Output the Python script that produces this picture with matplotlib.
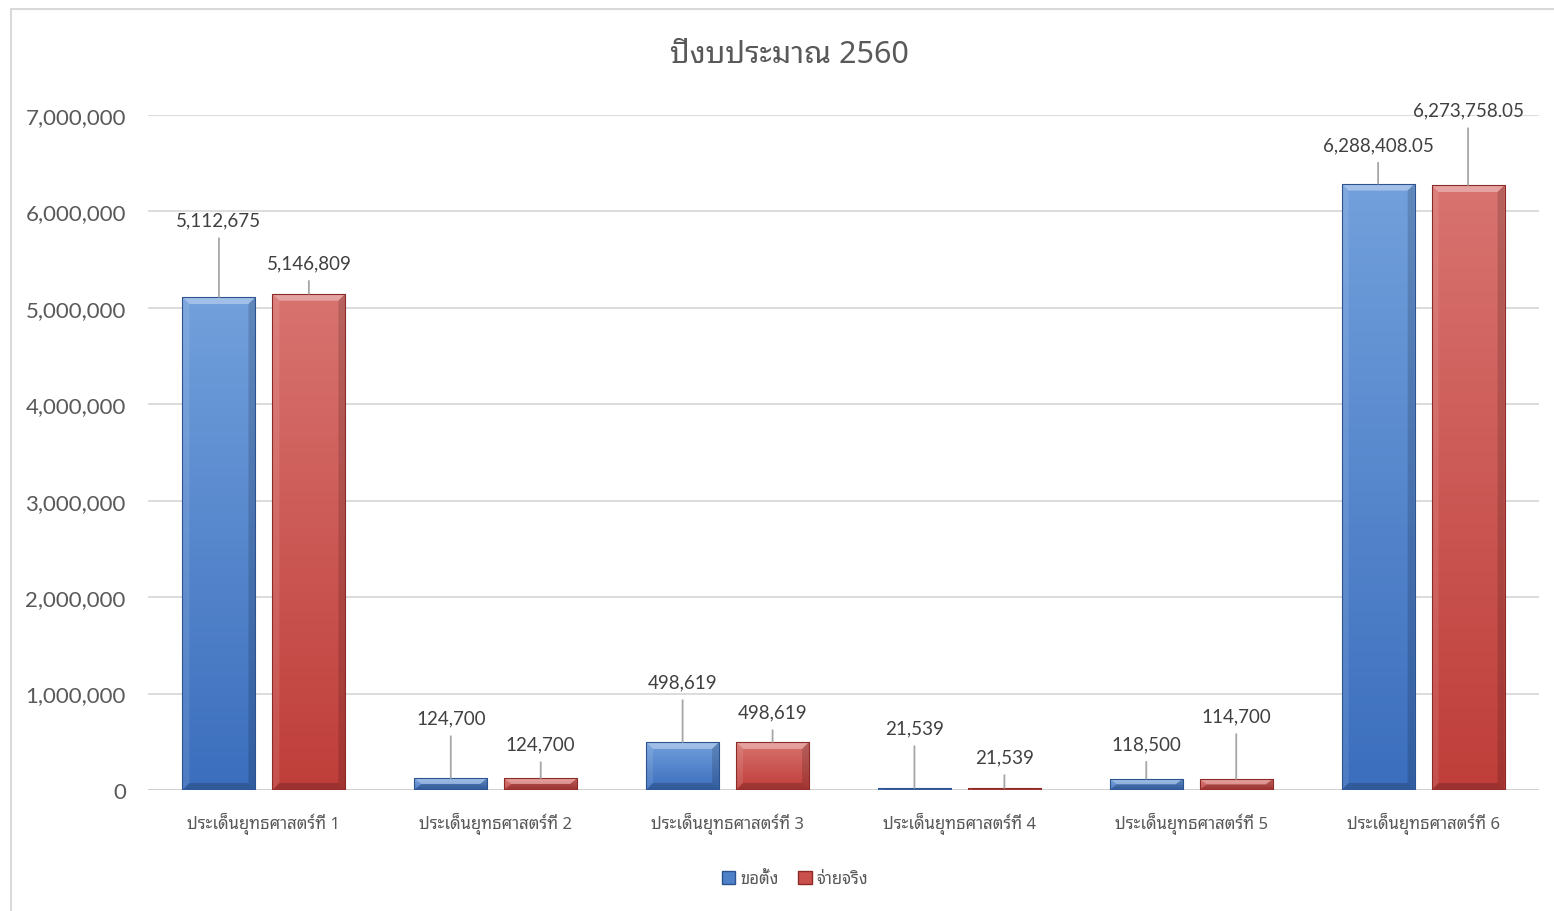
import numpy as np
import matplotlib
matplotlib.use('Agg')
import matplotlib.pyplot as plt
from matplotlib import font_manager as fm
from matplotlib.colors import LinearSegmentedColormap
from matplotlib.patches import Polygon, Rectangle, Patch

# data
categories = ['ประเด็นยุทธศาสตร์ที่ 1', 'ประเด็นยุทธศาสตร์ที่ 2', 'ประเด็นยุทธศาสตร์ที่ 3',
              'ประเด็นยุทธศาสตร์ที่ 4', 'ประเด็นยุทธศาสตร์ที่ 5', 'ประเด็นยุทธศาสตร์ที่ 6']
requested = [5112675, 124700, 498619, 21539, 118500, 6288408.05]
spent = [5146809, 124700, 498619, 21539, 114700, 6273758.05]
series_names = ['ขอตั้ง', 'จ่ายจริง']
title = 'ปีงบประมาณ 2560'
yticks = [0, 1000000, 2000000, 3000000, 4000000, 5000000, 6000000, 7000000]

# label offsets above bar tops (pixels)
off_req = [77, 60, 60, 60, 35, 39]
off_spent = [31, 34, 30, 31, 63, 75]

# fonts
names = {f.name for f in fm.fontManager.ttflist}
thai_pref = ['Noto Sans Thai Looped', 'IBM Plex Sans Thai Looped', 'Sarabun', 'Noto Sans Thai', 'Anuphan']
thai_font = next((n for n in thai_pref if n in names), 'DejaVu Sans')
num_font = 'Lato' if 'Lato' in names else 'DejaVu Sans'
plt.rcParams['font.family'] = [thai_font, 'DejaVu Sans']

W, H = 1554, 912
fig = plt.figure(figsize=(W / 100, H / 100), dpi=100)
ax_l, ax_b = 148 / W, (H - 791) / H
ax_w, ax_h = (1539 - 148) / W, (791 - 116) / H
ax = fig.add_axes([ax_l, ax_b, ax_w, ax_h])

# chart border
fig.patches.append(Rectangle((11 / W, -0.05), 1.2, 1 - 10 / H + 0.05, transform=fig.transFigure,
                             fill=False, edgecolor='#d9d9d9', lw=1.5, zorder=0))

x = np.arange(len(categories))
bw = 0.315
gap = 0.073
ax.set_xlim(-0.5, len(categories) - 0.5)
ax.set_ylim(0, 7000000)

ax.set_yticks(yticks)
ax.set_yticklabels(['{:,}'.format(v) for v in yticks], fontfamily=num_font, fontsize=16, color='#595959')
ax.set_xticks(x)
ax.set_xticklabels(categories, fontsize=12, color='#595959')
ax.tick_params(axis='y', length=0, pad=16)
ax.tick_params(axis='x', length=0, pad=16)
for s in ax.spines.values():
    s.set_visible(False)
ax.grid(axis='y', color='#d9d9d9', lw=1.3, zorder=0)
ax.set_axisbelow(True)
ax.axhline(0, color='#d0d0d0', lw=2, zorder=1)

# pixel size in data units
px_x = 6 / (ax_w * W)
px_y = 7000000 / (ax_h * H)

styles = [
    dict(top='#72a0dc', bottom='#3b6ebd', edge='#2c538f'),
    dict(top='#d8736f', bottom='#bf3e3a', edge='#8c2a27'),
]


def shade(rect, st):
    x0, y0 = rect.get_x(), rect.get_y()
    w, h = rect.get_width(), rect.get_height()
    cmap = LinearSegmentedColormap.from_list('g', [st['bottom'], st['top']])
    grad = np.linspace(0, 1, 128).reshape(-1, 1)
    im = ax.imshow(grad, extent=(x0, x0 + w, y0, y0 + h), origin='lower', aspect='auto',
                   cmap=cmap, zorder=2, interpolation='bilinear')
    im.set_clip_path(rect)
    bx = 7 * px_x
    by = min(7 * px_y, h / 2)
    t = y0 + h
    polys = [
        ([(x0, t), (x0 + w, t), (x0 + w - bx, t - by), (x0 + bx, t - by)], 'white', 0.35),
        ([(x0, y0), (x0, t), (x0 + bx, t - by), (x0 + bx, y0 + by)], 'white', 0.1),
        ([(x0 + w, y0), (x0 + w, t), (x0 + w - bx, t - by), (x0 + w - bx, y0 + by)], 'black', 0.15),
        ([(x0, y0), (x0 + w, y0), (x0 + w - bx, y0 + by), (x0 + bx, y0 + by)], 'black', 0.18),
    ]
    for pts, c, a in polys:
        ax.add_patch(Polygon(pts, closed=True, facecolor=c, alpha=a, edgecolor='none', zorder=3))
    ax.add_patch(Rectangle((x0, y0), w, h, fill=False, edgecolor=st['edge'], lw=0.8, zorder=4))


offset = (bw + gap) / 2
for vals, shift, st, offs in [(requested, -offset, styles[0], off_req),
                              (spent, offset, styles[1], off_spent)]:
    bars = ax.bar(x + shift, vals, bw, color='none', edgecolor='none', zorder=2)
    for rect, v, o in zip(bars, vals, offs):
        shade(rect, st)
        txt = '{:,.0f}'.format(v) if float(v).is_integer() else '{:,.2f}'.format(v)
        ax.annotate(txt, xy=(rect.get_x() + rect.get_width() / 2, v), xytext=(0, o),
                    textcoords='offset pixels', ha='center', va='center',
                    fontfamily=num_font, fontsize=13.5, color='#404040', zorder=5,
                    arrowprops=dict(arrowstyle='-', color='#a6a6a6', lw=1.3, shrinkA=5, shrinkB=0))

ax.set_xlim(-0.5, len(categories) - 0.5)
ax.set_ylim(0, 7000000)

fig.text(789 / W, 1 - 55 / H, title, ha='center', va='center', fontsize=22,
         fontweight='medium', color='#595959')

handles = [Patch(facecolor='#4f81c9', edgecolor=styles[0]['edge']),
           Patch(facecolor='#c9504c', edgecolor=styles[1]['edge'])]
fig.legend(handles, series_names, loc='center', bbox_to_anchor=(795 / W, 1 - 880 / H),
           ncol=2, frameon=False, fontsize=12, labelcolor='#595959',
           handlelength=0.8, handleheight=0.8, handletextpad=0.3, columnspacing=1.2)

fig.savefig('out.png', dpi=100)
